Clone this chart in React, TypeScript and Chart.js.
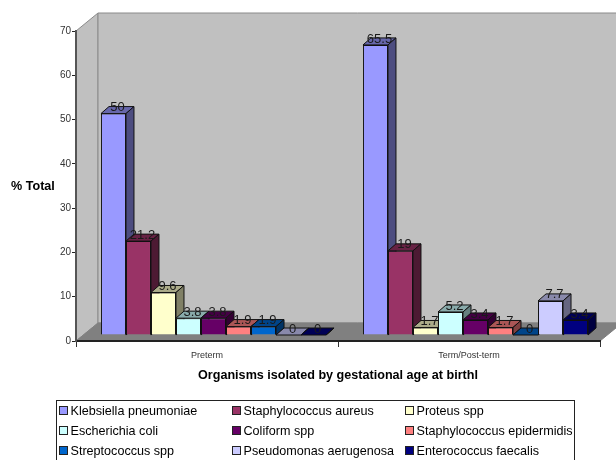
import React, { useEffect, useRef } from "react";
import { Chart, registerables } from "chart.js";

Chart.register(...registerables);

const categories = ["Preterm", "Term/Post-term"];
const organisms = [
  "Klebsiella pneumoniae",
  "Staphylococcus aureus",
  "Proteus spp",
  "Escherichia coli",
  "Coliform spp",
  "Staphylococcus epidermidis",
  "Streptococcus spp",
  "Pseudomonas aerugenosa",
  "Enterococcus faecalis",
];
const pretermValues = [50, 21.2, 9.6, 3.8, 3.8, 1.9, 1.9, 0, 0];
const termValues = [65.5, 19, 1.7, 5.2, 3.4, 1.7, 0, 7.7, 3.4];
const colors = ["#9999FF", "#993366", "#FFFFCC", "#CCFFFF", "#660066", "#FF8080", "#0066CC", "#CCCCFF", "#000080"];
const xTitle = "Organisms isolated by gestational age at birthl";
const yTitle = "% Total";

const FONT = "'Liberation Sans', Arial, sans-serif";
const WALL = { dx: 22, dy: -18 };
const BAR = { dx: 8, dy: -7, shiftX: 6.5, shiftY: -6 };

function shade(hex: string, k: number) {
  const n = parseInt(hex.slice(1), 16);
  const c = [(n >> 16) & 255, (n >> 8) & 255, n & 255].map((v) => Math.round(v * k));
  return `rgb(${c[0]},${c[1]},${c[2]})`;
}

function poly(ctx: CanvasRenderingContext2D, pts: number[][], fill: string, stroke: string) {
  ctx.beginPath();
  pts.forEach((p, i) => (i ? ctx.lineTo(p[0], p[1]) : ctx.moveTo(p[0], p[1])));
  ctx.closePath();
  ctx.fillStyle = fill;
  ctx.fill();
  ctx.lineWidth = 1;
  ctx.strokeStyle = stroke;
  ctx.stroke();
}

const scene3d = {
  id: "scene3d",
  beforeDraw(chart: any) {
    const { ctx, chartArea: a } = chart;
    const { left: l, right: r, top: t, bottom: b } = a;
    const { dx, dy } = WALL;
    ctx.save();
    poly(ctx, [[l, t], [l + dx, t + dy], [l + dx, b + dy], [l, b]], "#C0C0C0", "#8A8A8A");
    poly(ctx, [[l + dx, t + dy], [r + dx, t + dy], [r + dx, b + dy], [l + dx, b + dy]], "#C0C0C0", "#8A8A8A");
    poly(ctx, [[l, b], [l + dx, b + dy], [r + dx, b + dy], [r, b]], "#808080", "#808080");
    ctx.restore();
  },
  beforeDatasetsDraw(chart: any) {
    const { ctx } = chart;
    ctx.save();
    ctx.translate(BAR.shiftX, BAR.shiftY);
    chart.data.datasets.forEach((ds: any, i: number) => {
      const meta = chart.getDatasetMeta(i);
      meta.controller.draw();
      meta.data.forEach((bar: any) => {
        const { x, y, width } = bar.getProps(["x", "y", "width"], true);
        const x0 = x - width / 2;
        const x1 = x + width / 2;
        const base = chart.scales.y.getPixelForValue(0);
        const { dx, dy } = BAR;
        poly(ctx, [[x0, y], [x0 + dx, y + dy], [x1 + dx, y + dy], [x1, y]], shade(ds.backgroundColor, 0.67), "#111");
        poly(ctx, [[x1, y], [x1 + dx, y + dy], [x1 + dx, base + dy], [x1, base]], shade(ds.backgroundColor, 0.5), "#111");
      });
    });
    ctx.restore();
    return false;
  },
  afterDraw(chart: any) {
    const { ctx } = chart;
    ctx.save();
    // data labels
    ctx.font = `13px ${FONT}`;
    ctx.fillStyle = "#1a1a1a";
    ctx.textAlign = "center";
    ctx.textBaseline = "middle";
    chart.data.datasets.forEach((ds: any, i: number) => {
      chart.getDatasetMeta(i).data.forEach((bar: any, j: number) => {
        const { x, y } = bar.getProps(["x", "y"], true);
        ctx.fillText(String(ds.data[j]), x + BAR.shiftX + 4, y + BAR.shiftY - 6);
      });
    });
    // y-axis title, set horizontally
    ctx.font = `bold 12.6px ${FONT}`;
    ctx.fillStyle = "#000";
    ctx.textAlign = "left";
    ctx.fillText(yTitle, 11, 187);
    // legend, three columns in a box running off the page
    ctx.strokeStyle = "#222";
    ctx.lineWidth = 1;
    ctx.fillStyle = "#fff";
    ctx.fillRect(56.5, 400.5, 518, 70);
    ctx.strokeRect(56.5, 400.5, 518, 70);
    ctx.font = `12.6px ${FONT}`;
    chart.data.datasets.forEach((ds: any, i: number) => {
      const col = i % 3;
      const row = Math.floor(i / 3);
      const lx = 59.5 + col * 173;
      const ly = 412 + row * 20;
      ctx.fillStyle = ds.backgroundColor;
      ctx.fillRect(lx, ly - 5.5, 8, 8);
      ctx.strokeRect(lx, ly - 5.5, 8, 8);
      ctx.fillStyle = "#000";
      ctx.fillText(ds.label, lx + 11, ly);
    });
    ctx.restore();
  },
};

export default function App() {
  const ref = useRef<HTMLCanvasElement>(null);
  useEffect(() => {
    const chart = new Chart(ref.current!, {
      type: "bar",
      data: {
        labels: categories,
        datasets: organisms.map((label, i) => ({
          label,
          data: [pretermValues[i], termValues[i]],
          backgroundColor: colors[i],
          borderColor: "#111",
          borderWidth: 1,
          barPercentage: 1,
          categoryPercentage: 0.859,
          clip: false as any,
        })),
      },
      options: {
        responsive: false,
        animation: false,
        devicePixelRatio: 1,
        layout: { padding: { top: 31, right: 16, left: 0, bottom: 0 } },
        plugins: { legend: { display: false }, tooltip: { enabled: false } },
        scales: {
          x: {
            afterFit(s: any) {
              s.height = 119;
            },
            grid: { drawOnChartArea: false, tickLength: 6, color: "#333", offset: true },
            border: { color: "#222", width: 2 },
            ticks: { color: "#333", font: { family: FONT, size: 9 }, padding: 3, maxRotation: 0 },
            title: {
              display: true,
              text: xTitle,
              color: "#000",
              font: { family: FONT, size: 12.6, weight: "bold" },
              padding: { top: 0, bottom: 77 },
            },
          },
          y: {
            min: 0,
            max: 70,
            afterFit(s: any) {
              s.width = 76;
            },
            grid: { drawOnChartArea: false, tickLength: 4, color: "#222" },
            border: { color: "#555", width: 2 },
            ticks: { stepSize: 10, color: "#333", font: { family: FONT, size: 10 }, padding: 1 },
          },
        },
      },
      plugins: [scene3d],
    } as any);
    return () => chart.destroy();
  }, []);
  return (
    <canvas
      ref={ref}
      width={616}
      height={460}
      style={{ position: "fixed", left: 0, top: 0, display: "block" }}
    />
  );
}
